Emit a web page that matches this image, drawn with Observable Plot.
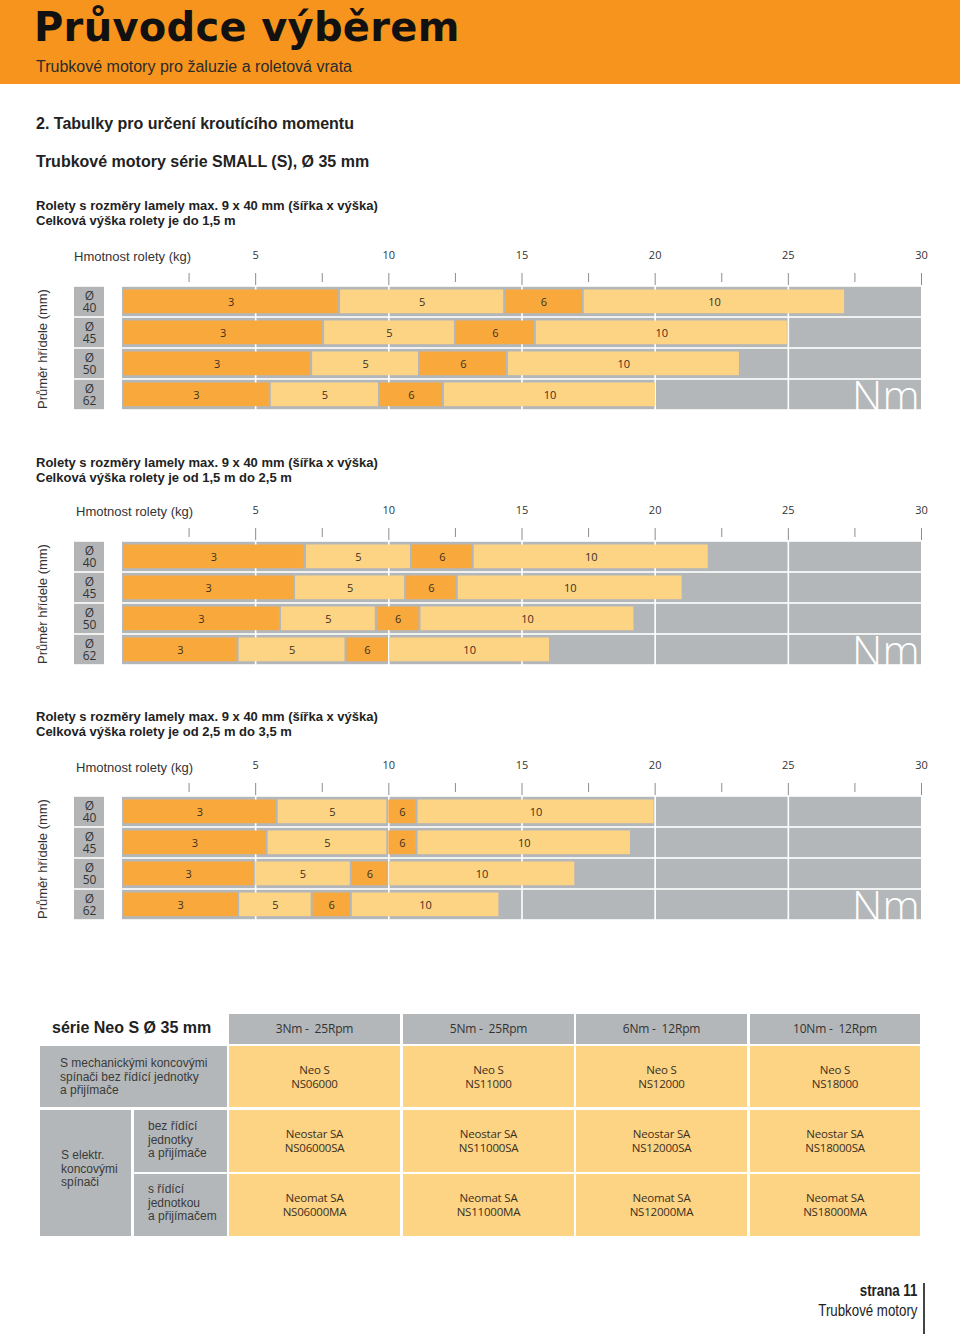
<!DOCTYPE html>
<html><head><meta charset="utf-8">
<script src="https://cdn.jsdelivr.net/npm/d3@7"></script>
<script src="https://cdn.jsdelivr.net/npm/@observablehq/plot@0.6"></script>
<style>
body{margin:0;background:#fff;}
#page{position:relative;width:960px;height:1334px;overflow:hidden;font-family:"Liberation Sans",Arial,sans-serif;color:#222;}
.abs{position:absolute;white-space:pre;line-height:1;}
.abs svg{display:block;}
</style></head><body><div id="page"></div>
<script>
// ---------- data ----------
const diameters = ["40", "45", "50", "62"];
const torques = ["3", "5", "6", "10"];
const xDomain = [0, 30];
const xTicks = [5, 10, 15, 20, 25, 30];
const xMinorTicks = [2.5, 7.5, 12.5, 17.5, 22.5, 27.5];
const xGrid = [5, 10, 15, 20, 25];
// segment end (kg) for torque 3,5,6,10 per shaft diameter
const panel1Ends = [[8.15, 14.35, 17.3, 27.15], [7.55, 12.5, 15.5, 25.0], [7.1, 11.15, 14.45, 23.2], [5.55, 9.65, 12.05, 20.05]];
const panel2Ends = [[6.87, 10.85, 13.17, 22.03], [6.46, 10.63, 12.57, 21.05], [5.93, 9.53, 11.17, 19.24], [4.34, 8.39, 10.0, 16.07]];
const panel3Ends = [[5.81, 9.96, 11.06, 20.0], [5.43, 9.96, 11.06, 19.11], [4.96, 8.59, 9.98, 17.02], [4.36, 7.12, 8.59, 14.17]];
const panelLine1 = "Rolety s rozměry lamely max. 9 x 40 mm (šířka x výška)";
const panelLine2 = ["Celková výška rolety je do 1,5 m", "Celková výška rolety je od 1,5 m do 2,5 m", "Celková výška rolety je od 2,5 m do 3,5 m"];
const tableHeaders = ["3Nm -  25Rpm", "5Nm -  25Rpm", "6Nm -  12Rpm", "10Nm -  12Rpm"];
const rowNeoS = ["NS06000", "NS11000", "NS12000", "NS18000"];
const rowNeostar = ["NS06000SA", "NS11000SA", "NS12000SA", "NS18000SA"];
const rowNeomat = ["NS06000MA", "NS11000MA", "NS12000MA", "NS18000MA"];

// ---------- styles ----------
const ORANGE = "#F7941D", DARK = "#F9A93C", LIGHT = "#FDD384", GRAY = "#B4B7B9", BOXGRAY = "#B2B4B6";
const NUMFONT = "'Open Sans', 'Noto Sans', sans-serif";
const page = document.getElementById("page");
function add(html, css) {
  const d = document.createElement("div");
  d.className = "abs";
  if (typeof html === "string") d.textContent = html; else d.appendChild(html);
  Object.assign(d.style, css);
  page.appendChild(d);
  return d;
}
const top0 = (baseline, fs) => (baseline - 0.846 * fs) + "px";

// header band
add("", {left: "0px", top: "0px", width: "960px", height: "84px", background: ORANGE});
add("Průvodce výběrem", {left: "34px", top: top0(41, 40), fontFamily: "'DejaVu Sans', sans-serif", fontWeight: "bold", fontSize: "40px", color: "#111", letterSpacing: "0.3px"});
add("Trubkové motory pro žaluzie a roletová vrata", {left: "36px", top: top0(72.5, 16), fontSize: "16px", color: "#2b2b2b"});
add("2. Tabulky pro určení kroutícího momentu", {left: "36px", top: top0(130, 16), fontSize: "16px", fontWeight: "bold", color: "#222"});
add("Trubkové motory série SMALL (S), Ø 35 mm", {left: "36px", top: top0(168, 16), fontSize: "16px", fontWeight: "bold", color: "#222"});

// ---------- panels ----------
const panelTops = [240, 495, 750];
const titleBase = [[210, 224.5], [466.7, 481.5], [720.7, 735.7]];
const hmLeft = [74, 76, 76];
const hmBase = [260.7, 515.7, 771.7];
[panel1Ends, panel2Ends, panel3Ends].forEach((ends, p) => {
  const T = panelTops[p];
  add(panelLine1, {left: "36px", top: top0(titleBase[p][0], 13), fontSize: "13px", fontWeight: "bold", color: "#222"});
  add(panelLine2[p], {left: "36px", top: top0(titleBase[p][1], 13), fontSize: "13px", fontWeight: "bold", color: "#222"});
  add("Hmotnost rolety (kg)", {left: hmLeft[p] + "px", top: top0(hmBase[p], 13), fontSize: "13px", color: "#333"});
  add("Průměr hřídele (mm)", {left: "42px", top: (T + 109) + "px", fontSize: "13px", color: "#333", transform: "translate(-50%,-50%) rotate(-90deg)"});

  const segs = [];
  diameters.forEach((d, i) => {
    let prev = xDomain[0];
    ends[i].forEach((e, j) => { segs.push({d, t: torques[j], x1: prev, x2: e}); prev = e; });
  });
  const chart = Plot.plot({
    width: 960, height: 171, marginLeft: 122, marginRight: 39, marginTop: 44, marginBottom: 0,
    style: {fontFamily: NUMFONT, fontSize: "11px", color: "#333", background: "transparent", overflow: "hidden"},
    x: {domain: xDomain, axis: null},
    y: {domain: diameters, axis: null, paddingInner: 0, paddingOuter: 0},
    color: {type: "ordinal", domain: torques, range: [DARK, LIGHT, DARK, LIGHT]},
    marks: [
      Plot.barX(diameters, {y: d => d, x1: xDomain[0], x2: xDomain[1], fill: GRAY, insetTop: 0.8, insetBottom: 0.8}),
      Plot.ruleX(xGrid, {stroke: "white", strokeWidth: 1.6}),
      Plot.barX(segs, {y: "d", x1: "x1", x2: "x2", fill: "t", insetTop: 3.5, insetBottom: 3.8, insetLeft: 1, insetRight: 1}),
      Plot.text(segs, {y: "d", x: d => (d.x1 + d.x2) / 2, text: "t", fill: "#3b2f1e", fontSize: 11}),
      Plot.text([diameters[diameters.length - 1]], {y: d => d, x: xDomain[1], text: () => "Nm", fill: "white", fontSize: 42, fontWeight: 300, textAnchor: "end", dx: -2, dy: 3, clip: "frame"}),
      Plot.axisX({anchor: "top", ticks: xTicks, tickSize: 12, tickPadding: 14, stroke: "#8c8c8c", fill: "#333", fontSize: 11, label: null}),
      Plot.axisX({anchor: "top", ticks: xMinorTicks, tickSize: 9, dy: -3, tickFormat: () => "", stroke: "#8c8c8c", label: null})
    ]
  });
  add(chart, {left: "0px", top: T + "px"});

  const boxes = Plot.plot({
    width: 30, height: 171, marginLeft: 0, marginRight: 0, marginTop: 44, marginBottom: 0,
    style: {fontFamily: NUMFONT, background: "transparent"},
    x: {axis: null},
    y: {domain: diameters, axis: null, paddingInner: 0, paddingOuter: 0},
    marks: [
      Plot.cell(diameters, {y: d => d, fill: BOXGRAY, insetTop: 0.8, insetBottom: 0.8}),
      Plot.text(diameters, {y: d => d, text: d => "Ø\n" + d, frameAnchor: "middle", fontSize: 12, lineHeight: 1.02, fill: "#333"})
    ]
  });
  add(boxes, {left: "74px", top: T + "px"});
});

// ---------- table ----------
const colX = [229, 403, 576, 750];
const colW = [171, 171, 171, 170];
const rows = [[1046, 61], [1110, 62], [1174, 62]];
function cell(x, y, w, h, bg, text, css) {
  const d = add(text, Object.assign({left: x + "px", top: y + "px", width: w + "px", height: h + "px", background: bg, boxSizing: "border-box"}, css || {}));
  return d;
}
const centerCss = {display: "flex", alignItems: "center", justifyContent: "center", textAlign: "center", fontFamily: NUMFONT, fontSize: "11.5px", lineHeight: "14px", color: "#3b2f1e", letterSpacing: "-0.2px"};
add("série Neo S Ø 35 mm", {left: "52px", top: top0(1034, 16), fontSize: "16px", fontWeight: "bold", color: "#222"});
tableHeaders.forEach((h, i) => cell(colX[i], 1014, colW[i], 30, GRAY, h, Object.assign({}, centerCss, {color: "#333", fontSize: "12px"})));
const prodNames = ["Neo S", "Neostar SA", "Neomat SA"];
[rowNeoS, rowNeostar, rowNeomat].forEach((r, ri) => {
  r.forEach((code, i) => cell(colX[i], rows[ri][0], colW[i], rows[ri][1], LIGHT, prodNames[ri] + "\n" + code, centerCss));
});
const leftCss = {fontSize: "12px", lineHeight: "13.5px", color: "#3a3a3a"};
cell(40, 1046, 187, 61, GRAY, "S mechanickými koncovými\nspínači bez řídící jednotky\na přijímače", Object.assign({paddingLeft: "20px", paddingTop: "11px"}, leftCss));
cell(40, 1110, 91, 126, GRAY, "S elektr.\nkoncovými\nspínači", Object.assign({paddingLeft: "21px", paddingTop: "39px"}, leftCss));
cell(134, 1110, 93, 62, GRAY, "bez řídící\njednotky\na přijímače", Object.assign({paddingLeft: "14px", paddingTop: "10px"}, leftCss));
cell(134, 1174, 93, 62, GRAY, "s řídící\njednotkou\na přijímačem", Object.assign({paddingLeft: "14px", paddingTop: "9px"}, leftCss));

// ---------- footer ----------
const narrow = {fontFamily: "'Liberation Sans', sans-serif", fontSize: "16px", color: "#222", textAlign: "right", transform: "scaleX(0.83)", transformOrigin: "right center"};
add("strana 11", Object.assign({right: "43px", top: top0(1297, 16), fontWeight: "bold"}, narrow));
add("Trubkové motory", Object.assign({right: "43px", top: top0(1316.5, 16)}, narrow));
add("", {left: "923px", top: "1283px", width: "1.5px", height: "51px", background: "#444"});
</script>
</body></html>
